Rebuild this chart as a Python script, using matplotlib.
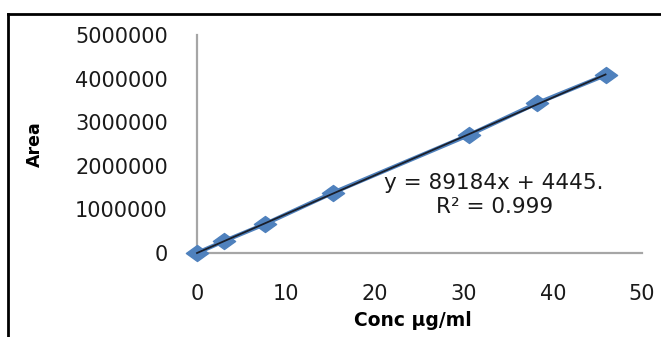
import matplotlib
matplotlib.use("Agg")
import matplotlib.pyplot as plt
import numpy as np
from matplotlib.lines import Line2D
from matplotlib.path import Path

conc = [0, 3.06, 7.65, 15.3, 30.6, 38.25, 45.9]
area = [0, 275000, 665000, 1385000, 2710000, 3440000, 4080000]
x_ticks = [0, 10, 20, 30, 40, 50]
y_ticks = [0, 1000000, 2000000, 3000000, 4000000, 5000000]
eq_text = "y = 89184x + 4445."
r2_text = "R² = 0.999"

W, H = 661, 337
fig = plt.figure(figsize=(W / 100, H / 100), dpi=100)
ax = fig.add_axes([197 / W, 1 - 253 / H, (642 - 197) / W, (253 - 35) / H])

blue = "#4F81BD"
diamond = Path([(-1, 0), (0, 0.72), (1, 0), (0, -0.72), (-1, 0)],
               [Path.MOVETO, Path.LINETO, Path.LINETO, Path.LINETO, Path.CLOSEPOLY])

ax.plot(conc, area, color=blue, lw=3, marker=diamond, markersize=16,
        markerfacecolor=blue, markeredgecolor=blue, zorder=3, clip_on=False)
coef = np.polyfit(conc, area, 1)
xs = np.array([min(conc), max(conc)])
ax.plot(xs, np.polyval(coef, xs), color="#1a1f2b", lw=1.3, zorder=4, clip_on=False)

ax.set_xlim(0, 50)
ax.set_ylim(0, 5000000)
ax.set_xticks(x_ticks)
ax.set_yticks(y_ticks)
ax.set_xticklabels([str(v) for v in x_ticks])
ax.set_yticklabels([str(v) for v in y_ticks])
ax.tick_params(length=0, labelsize=15, colors="#1a1a1a")
ax.tick_params(axis="y", pad=21)
ax.tick_params(axis="x", pad=22)
for s in ["top", "right"]:
    ax.spines[s].set_visible(False)
for s in ["left", "bottom"]:
    ax.spines[s].set_color("#a6a6a6")
    ax.spines[s].set_linewidth(1.6)

ax.set_xlabel("Conc μg/ml", fontsize=13.5, fontweight="bold", va="center")
ax.xaxis.set_label_coords((413 - 197) / (642 - 197), -(320 - 253) / (253 - 35))
ax.set_ylabel("Area", fontsize=12.5, fontweight="bold", va="center")
ax.yaxis.set_label_coords(-(197 - 35) / (642 - 197), 0.5)

fig.text(494 / W, 1 - 183 / H, eq_text, fontsize=15.5, ha="center", va="center", color="#1a1a1a")
fig.text(495 / W, 1 - 207 / H, r2_text, fontsize=15.5, ha="center", va="center", color="#1a1a1a")

fig.add_artist(Line2D([8 / W, 8 / W], [0, 1 - 14 / H], transform=fig.transFigure, color="black", lw=2))
fig.add_artist(Line2D([8 / W, 1], [1 - 14 / H, 1 - 14 / H], transform=fig.transFigure, color="black", lw=2))

fig.savefig("out.png", dpi=100)
